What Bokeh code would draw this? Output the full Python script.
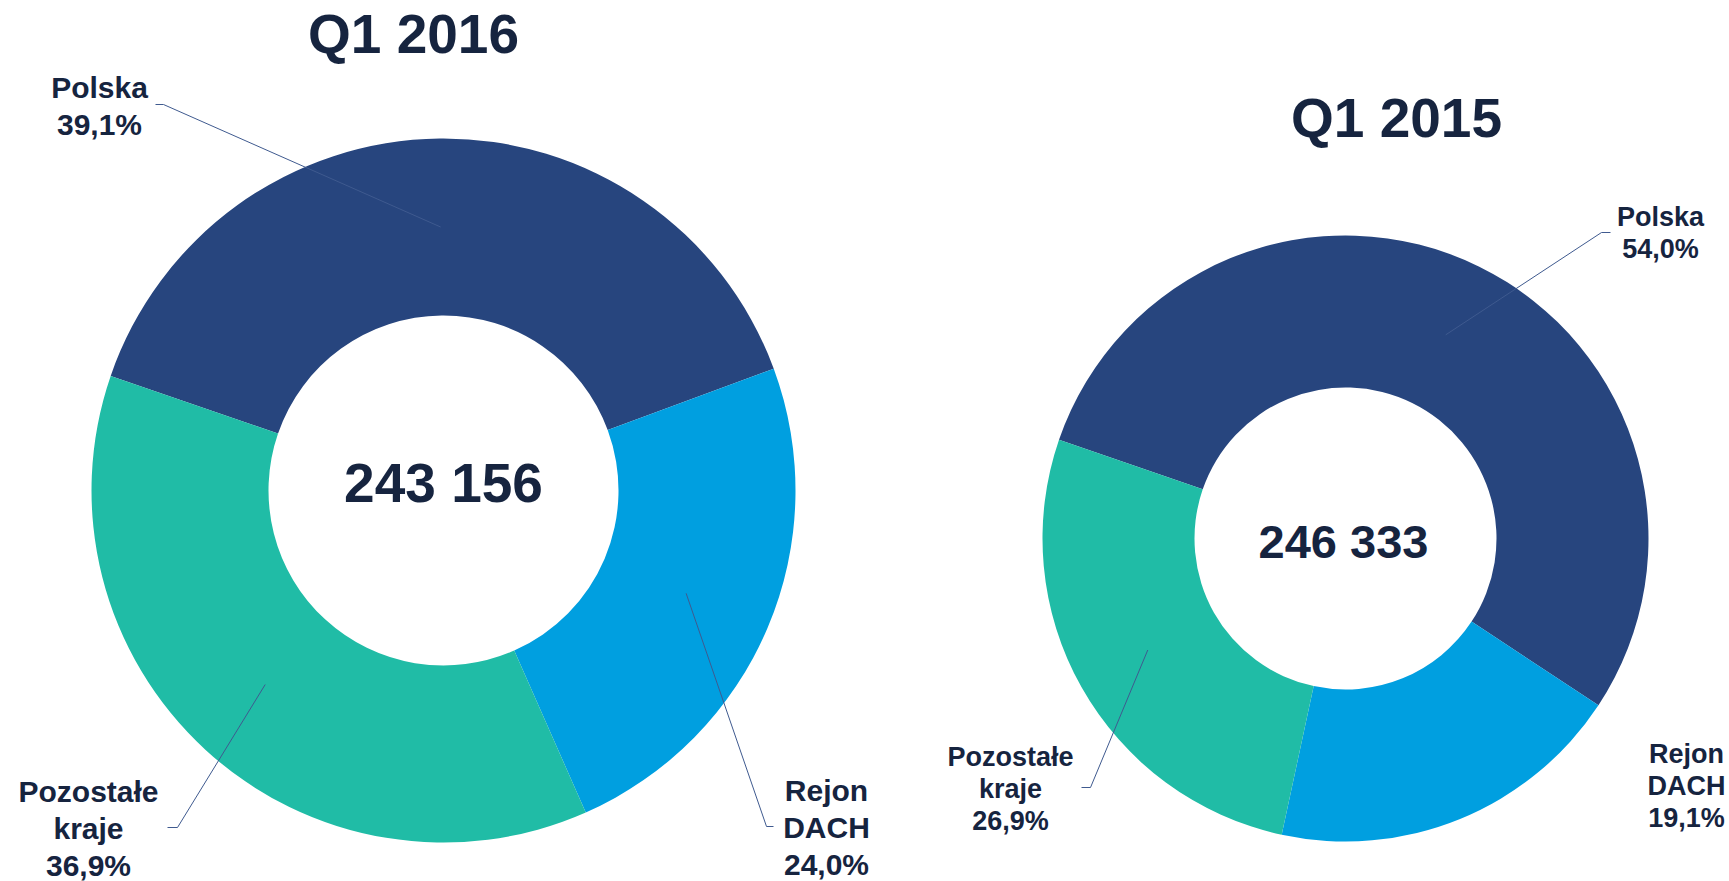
import math
from bokeh.plotting import figure
from bokeh.models import Range1d, ColumnDataSource
from bokeh.core.properties import value
from bokeh.embed import file_html
from bokeh.resources import INLINE

# ---------------- data ----------------
categories = ["Polska", "Rejon DACH", "Pozostałe kraje"]
label_lines = [["Polska"], ["Rejon", "DACH"], ["Pozostałe", "kraje"]]
share_q1_2016 = [39.1, 24.0, 36.9]
share_q1_2015 = [54.0, 19.1, 26.9]
total_q1_2016 = "243 156"
total_q1_2015 = "246 333"
titles = ["Q1 2016", "Q1 2015"]

# ---------------- style ----------------
colors = ["#27457E", "#009FE0", "#20BCA6"]
TEXT = "#16243F"
LEADER = "#3F5A8F"
FONT = "Liberation Sans"
W, H = 1729, 881
START_DEG = 161.0  # first slice starts here and runs clockwise
BASE_SHIFT = 0.36   # compensation for text baseline placement


def X(sx):
    return sx


def Y(sy):
    return H - sy


def TY(sy, fs):
    return Y(sy - BASE_SHIFT * fs)


p = figure(width=W, height=H, x_range=Range1d(0, W), y_range=Range1d(0, H),
           output_backend="svg", toolbar_location=None, min_border=0,
           x_axis_type=None, y_axis_type=None)
p.grid.visible = False
p.outline_line_color = None
p.background_fill_color = "white"
p.border_fill_color = "white"

donuts = [
    dict(shares=share_q1_2016, total=total_q1_2016, title=titles[0],
         c=(443, 490), r_in=175, r_out=352, fs=30, ls=37, total_fs=55,
         total_pos=(443, 502), title_pos=(413, 53),
         labels=[(99, 98), (826, 801), (88, 802)],
         ticks=[((155, 104), (163, 104)), ((773, 826), (766, 826)), ((167, 827), (177, 827))]),
    dict(shares=share_q1_2015, total=total_q1_2015, title=titles[1],
         c=(1345, 538), r_in=151, r_out=303, fs=27, ls=32, total_fs=47,
         total_pos=(1343, 558), title_pos=(1396, 137),
         labels=[(1660, 226), (1686, 763), (1010, 766)],
         ticks=[((1610, 232), (1601, 232)), None, ((1081, 787), (1090, 787))]),
]

for d in donuts:
    cx, cy = X(d["c"][0]), Y(d["c"][1])
    tot = sum(d["shares"])
    starts, ends = [], []
    cum = 0.0
    for v in d["shares"]:
        a0 = math.radians(START_DEG - 360.0 * (cum + v) / tot)
        a1 = math.radians(START_DEG - 360.0 * cum / tot)
        starts.append(a0)
        ends.append(a1)
        cum += v
    src = ColumnDataSource(dict(x=[cx] * 3, y=[cy] * 3, s=starts, e=ends, color=colors,
                                name=categories))
    p.annular_wedge(x="x", y="y", inner_radius=d["r_in"], outer_radius=d["r_out"],
                    start_angle="s", end_angle="e", direction="anticlock",
                    fill_color="color", line_color=None, source=src)

    # leader lines
    xs, ys = [], []
    rm = (d["r_in"] + d["r_out"]) / 2.0
    for i, t in enumerate(d["ticks"]):
        if t is None:
            continue
        th = (starts[i] + ends[i]) / 2.0
        mx, my = cx + rm * math.cos(th), cy + rm * math.sin(th)
        xs.append([X(t[0][0]), X(t[1][0]), mx])
        ys.append([Y(t[0][1]), Y(t[1][1]), my])
    p.multi_line(xs=xs, ys=ys, line_color=LEADER, line_width=1)

    # labels
    tx, ty, tt = [], [], []
    for i, (lx, ly) in enumerate(d["labels"]):
        lines = label_lines[i] + [f"{d['shares'][i]:.1f}".replace(".", ",") + "%"]
        for j, ln in enumerate(lines):
            tx.append(X(lx))
            ty.append(TY(ly + j * d["ls"], d["fs"]))
            tt.append(ln)
    p.text(x=tx, y=ty, text=tt, text_align="center", text_baseline="alphabetic",
           text_font=value(FONT), text_font_style="bold",
           text_font_size=f"{d['fs']}px", text_color=TEXT)

    # center total
    p.text(x=[X(d["total_pos"][0])], y=[TY(d["total_pos"][1], d["total_fs"])],
           text=[d["total"]], text_align="center", text_baseline="alphabetic",
           text_font=value(FONT), text_font_style="bold",
           text_font_size=f"{d['total_fs']}px", text_color=TEXT)

    # title
    p.text(x=[X(d["title_pos"][0])], y=[TY(d["title_pos"][1], 55)], text=[d["title"]],
           text_align="center", text_baseline="alphabetic",
           text_font=value(FONT), text_font_style="bold",
           text_font_size="55px", text_color=TEXT)

open("out.html", "w").write(file_html(p, INLINE))
